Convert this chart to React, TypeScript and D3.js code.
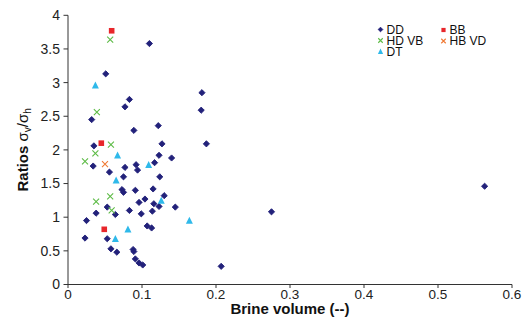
import React from "react";
import * as d3 from "d3";

const ddX = [0.110,0.051,0.181,0.083,0.077,0.180,0.032,0.122,0.089,0.035,0.127,0.187,0.123,0.140,0.117,0.092,0.034,0.077,0.094,0.056,0.075,0.124,0.073,0.075,0.091,0.115,0.130,0.104,0.096,0.116,0.123,0.053,0.145,0.038,0.083,0.114,0.064,0.099,0.025,0.107,0.113,0.023,0.053,0.058,0.066,0.088,0.089,0.091,0.096,0.101,0.275,0.207,0.563];
const ddY = [3.58,3.13,2.85,2.75,2.64,2.59,2.45,2.36,2.29,2.06,2.09,2.09,1.92,1.88,1.81,1.78,1.76,1.74,1.70,1.67,1.60,1.60,1.41,1.37,1.40,1.42,1.32,1.27,1.22,1.20,1.16,1.15,1.15,1.06,1.10,1.09,1.04,1.05,0.95,0.87,0.84,0.69,0.68,0.53,0.48,0.52,0.49,0.38,0.32,0.29,1.08,0.27,1.46];

const hdvbX = [0.057,0.039,0.058,0.037,0.023,0.057,0.038,0.059];
const hdvbY = [3.64,2.56,2.08,1.95,1.83,1.31,1.23,1.10];

const dtX = [0.037,0.067,0.109,0.065,0.126,0.164,0.081,0.064];
const dtY = [2.96,1.92,1.78,1.55,1.25,0.95,0.82,0.68];

const bbX = [0.059,0.045,0.049];
const bbY = [3.77,2.10,0.82];

const hbvdX = [0.050];
const hbvdY = [1.79];

const xTicks = [0, 0.1, 0.2, 0.3, 0.4, 0.5, 0.6];
const yTicks = [0, 0.5, 1, 1.5, 2, 2.5, 3, 3.5, 4];

const COL_DD = "#22217a";
const COL_HDVB = "#5dbb46";
const COL_DT = "#2fb9ea";
const COL_BB = "#e8262b";
const COL_HBVD = "#f07a35";

const FONT = "'Liberation Sans', Arial, sans-serif";

function Marker({ kind, x, y, k = 1 }: { kind: string; x: number; y: number; k?: number }) {
  if (kind === "DD") {
    const r = 3.1 * k;
    return <path d={`M${x},${y - r}L${x + r},${y}L${x},${y + r}L${x - r},${y}Z`} fill={COL_DD} stroke={COL_DD} strokeWidth={0.9} strokeLinejoin="round" />;
  }
  if (kind === "BB") {
    const s = 5.6 * k;
    return <rect x={x - s / 2} y={y - s / 2} width={s} height={s} fill={COL_BB} />;
  }
  if (kind === "DT") {
    const h = 6.5 * k, w = 7 * k;
    return <path d={`M${x},${y - h / 2 - 0.5}L${x + w / 2},${y + h / 2}L${x - w / 2},${y + h / 2}Z`} fill={COL_DT} />;
  }
  const c = kind === "HDVB" ? COL_HDVB : COL_HBVD;
  const r = 3 * k;
  return <path d={`M${x - r},${y - r}L${x + r},${y + r}M${x - r},${y + r}L${x + r},${y - r}`} stroke={c} strokeWidth={1.1} fill="none" />;
}

export default function App() {
  const W = 527, H = 329;
  const x = d3.scaleLinear().domain([0, 0.6]).range([68, 512]);
  const y = d3.scaleLinear().domain([0, 4]).range([284.5, 15.3]);
  const series = [
    { kind: "DD", xs: ddX, ys: ddY },
    { kind: "HDVB", xs: hdvbX, ys: hdvbY },
    { kind: "DT", xs: dtX, ys: dtY },
    { kind: "BB", xs: bbX, ys: bbY },
    { kind: "HBVD", xs: hbvdX, ys: hbvdY },
  ];
  const legend = [
    { kind: "DD", label: "DD", lx: 380.5, ly: 29.5 },
    { kind: "HDVB", label: "HD VB", lx: 380.5, ly: 40.5 },
    { kind: "DT", label: "DT", lx: 380.5, ly: 51.5 },
    { kind: "BB", label: "BB", lx: 443.5, ly: 30 },
    { kind: "HBVD", label: "HB VD", lx: 443.5, ly: 41 },
  ];
  const axisColor = "#333";
  return (
    <svg width={W} height={H} style={{ position: "absolute", left: 0, top: 0, background: "#fff" }} fontFamily={FONT}>
      <rect width={W} height={H} fill="#fff" />
      <line x1={x(0)} x2={x(0)} y1={y(4)} y2={y(0)} stroke={axisColor} strokeWidth={1} />
      <line x1={x(0)} x2={x(0.6)} y1={y(0)} y2={y(0)} stroke={axisColor} strokeWidth={1} />
      {yTicks.map((t) => (
        <g key={"y" + t}>
          <line x1={x(0) - 4.5} x2={x(0)} y1={y(t)} y2={y(t)} stroke={axisColor} />
          <text x={60} y={y(t)} dy="0.35em" textAnchor="end" fontSize={14} fill="#222">{d3.format("")(t)}</text>
        </g>
      ))}
      {xTicks.map((t) => (
        <g key={"x" + t}>
          <line x1={x(t)} x2={x(t)} y1={y(0)} y2={y(0) + 3.5} stroke={axisColor} />
          <text x={x(t)} y={298.5} textAnchor="middle" fontSize={13.5} fill="#222">{d3.format("")(t)}</text>
        </g>
      ))}
      <text x={(x(0) + x(0.6)) / 2} y={314} textAnchor="middle" fontSize={15} fontWeight="bold" fill="#111">Brine volume (--)</text>
      <text transform={`translate(28,${(y(0) + y(4)) / 2}) rotate(-90)`} textAnchor="middle" fontSize={15} fill="#111">
        <tspan fontWeight="bold">Ratios </tspan>
        <tspan>σ</tspan>
        <tspan fontSize={10} dy={3}>v</tspan>
        <tspan dy={-3}>/σ</tspan>
        <tspan fontSize={10} dy={3}>h</tspan>
      </text>
      {series.map((s) =>
        s.xs.map((v, i) => <Marker key={s.kind + i} kind={s.kind} x={x(v)} y={y(s.ys[i])} />)
      )}
      {legend.map((l) => (
        <g key={l.label}>
          <Marker kind={l.kind} x={l.lx} y={l.ly} k={0.75} />
          <text x={l.lx + 6} y={l.ly} dy="0.36em" fontSize={12} fill="#111">{l.label}</text>
        </g>
      ))}
    </svg>
  );
}
